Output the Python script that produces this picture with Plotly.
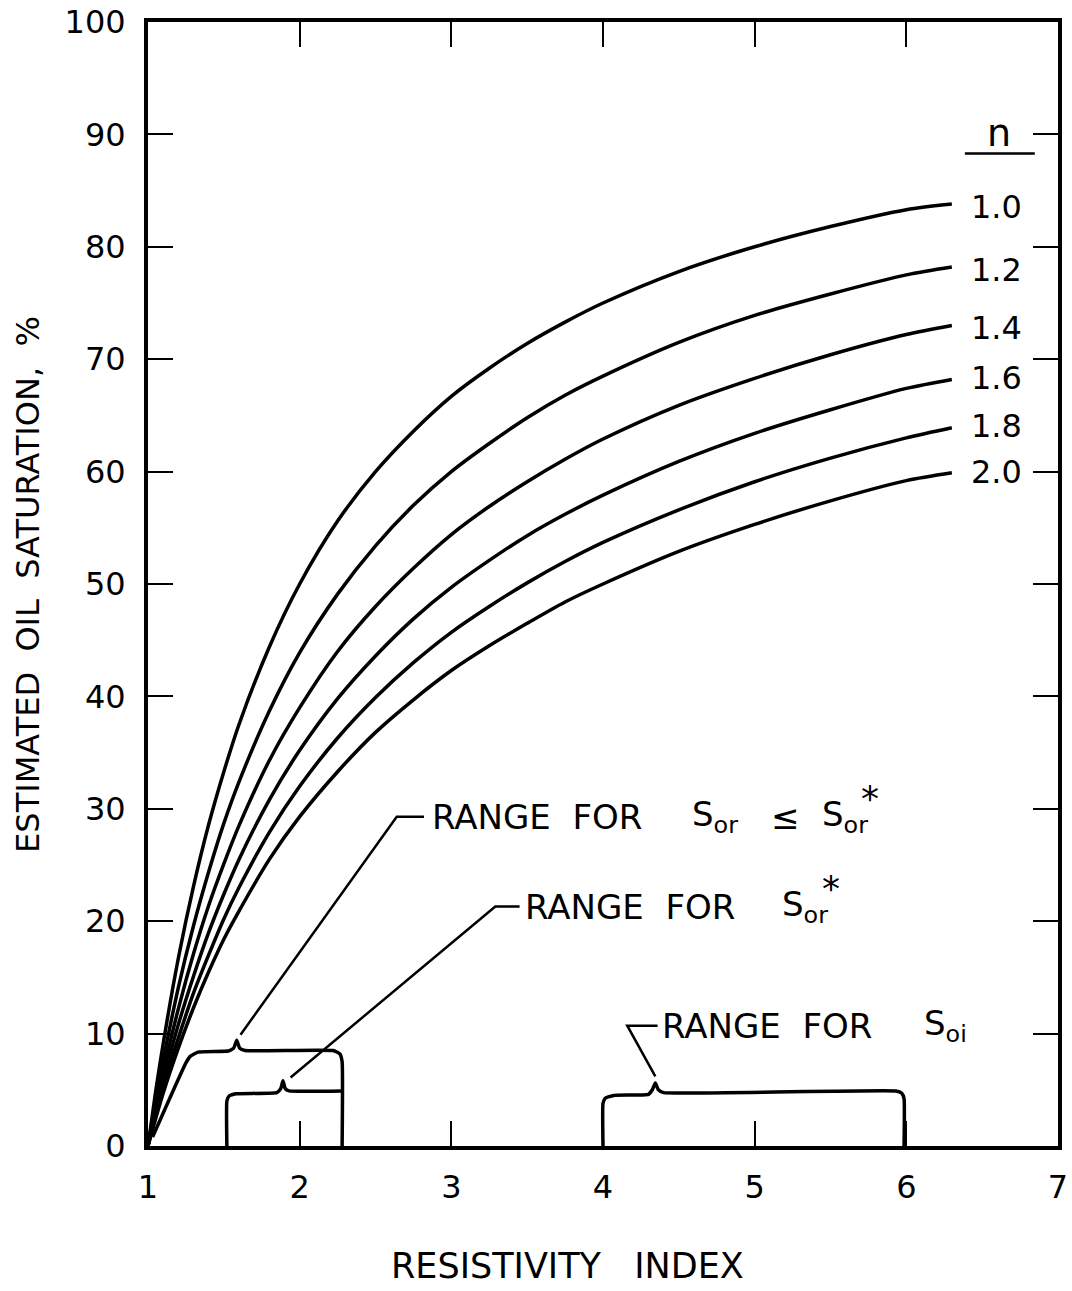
import plotly.graph_objects as go

# Resistivity index sample positions
ri = [1.0, 1.05, 1.1, 1.2, 1.3, 1.4, 1.5, 1.6, 1.8, 2.0, 2.25, 2.5, 2.75, 3.0, 3.25, 3.5, 3.75,
      4.0, 4.5, 5.0, 5.5, 6.0, 6.3]

# Estimated oil saturation (%), one list per exponent n
so_n10 = [0, 4.8, 9.1, 16.7, 23.1, 28.6, 33.3, 37.5, 44.4, 50.0, 55.6, 60.0, 63.6, 66.7, 69.2, 71.4, 73.3, 75.0, 77.8, 80.0, 81.8, 83.3, 83.8]
so_n12 = [0, 4.0, 7.6, 14.1, 19.6, 24.4, 28.7, 32.4, 38.7, 43.9, 49.1, 53.4, 57.0, 60.0, 62.5, 64.8, 66.8, 68.5, 71.5, 73.9, 75.8, 77.5, 78.2]
so_n14 = [0, 3.4, 6.6, 12.2, 17.1, 21.4, 25.1, 28.5, 34.3, 39.0, 44.0, 48.0, 51.4, 54.4, 56.9, 59.1, 61.1, 62.9, 65.9, 68.3, 70.4, 72.2, 73.0]
so_n16 = [0, 3.0, 5.8, 10.8, 15.1, 19.0, 22.4, 25.5, 30.8, 35.2, 39.8, 43.6, 46.9, 49.7, 52.1, 54.3, 56.2, 57.9, 60.9, 63.4, 65.5, 67.4, 68.2]
so_n18 = [0, 2.7, 5.2, 9.6, 13.6, 17.0, 20.2, 23.0, 27.9, 32.0, 36.3, 39.9, 43.0, 45.7, 48.0, 50.1, 52.0, 53.7, 56.6, 59.1, 61.2, 63.0, 63.9]
so_n20 = [0, 2.4, 4.7, 8.7, 12.3, 15.5, 18.4, 20.9, 25.5, 29.3, 33.3, 36.8, 39.7, 42.3, 44.5, 46.5, 48.4, 50.0, 52.9, 55.3, 57.4, 59.2, 59.9]

n_labels = ["1.0", "1.2", "1.4", "1.6", "1.8", "2.0"]
n_label_y = [83.5, 77.9, 72.8, 68.3, 64.1, 60.0]

x_ticks = [1, 2, 3, 4, 5, 6, 7]
y_ticks = [0, 10, 20, 30, 40, 50, 60, 70, 80, 90, 100]

# Range brackets (x = resistivity index, y = saturation %)
br_sor_le_x = [1.03, 1.25, 1.28, 1.33, 1.53, 1.565, 1.585, 1.605, 1.64, 2.22, 2.265, 2.28, 2.28]
br_sor_le_y = [0.8, 7.4, 8.0, 8.35, 8.45, 8.7, 9.4, 8.7, 8.5, 8.5, 8.2, 7.5, 0]
br_sor_x = [1.52, 1.52, 1.535, 1.58, 1.85, 1.875, 1.89, 1.905, 1.93, 2.28]
br_sor_y = [0, 4.0, 4.45, 4.65, 4.75, 5.1, 5.8, 5.1, 4.9, 4.9]
br_soi_x = [4.0, 4.0, 4.015, 4.07, 4.30, 4.325, 4.345, 4.365, 4.40, 5.93, 5.97, 5.985, 5.985]
br_soi_y = [0, 3.8, 4.25, 4.5, 4.6, 5.0, 5.6, 5.0, 4.75, 4.9, 4.7, 4.2, 0]

# Leader lines from brackets to their captions
ld1_x = [1.61, 2.64, 2.82]
ld1_y = [9.9, 29.3, 29.3]
ld2_x = [1.94, 3.29, 3.45]
ld2_y = [6.1, 21.3, 21.3]
ld3_x = [4.345, 4.16, 4.36]
ld3_y = [6.2, 10.7, 10.7]

# underline below the "n" heading
nline_x = [6.386, 6.847]
nline_y = [88.3, 88.3]

FONT = "DejaVu Sans"
fig = go.Figure()

for ys in [so_n10, so_n12, so_n14, so_n16, so_n18, so_n20]:
    fig.add_trace(go.Scatter(x=ri, y=ys, mode="lines", line=dict(color="black", width=3.5, shape="spline", smoothing=0.8),
                             showlegend=False, hoverinfo="skip", cliponaxis=False))

for bx, by in [(br_sor_le_x, br_sor_le_y), (br_sor_x, br_sor_y), (br_soi_x, br_soi_y)]:
    fig.add_trace(go.Scatter(x=bx, y=by, mode="lines", line=dict(color="black", width=3.5, shape="spline", smoothing=0.4),
                             showlegend=False, hoverinfo="skip", cliponaxis=False))

for lx, ly in [(ld1_x, ld1_y), (ld2_x, ld2_y), (ld3_x, ld3_y), (nline_x, nline_y)]:
    fig.add_trace(go.Scatter(x=lx, y=ly, mode="lines", line=dict(color="black", width=2.5),
                             showlegend=False, hoverinfo="skip", cliponaxis=False))

ann = []
def txt(x, y, s, size=32, xanchor="left", **kw):
    ann.append(dict(x=x, y=y, xref="x", yref="y", text=s, showarrow=False, xanchor=xanchor, yanchor="middle",
                    font=dict(family=FONT, size=size, color="black"), **kw))

# n labels
txt(6.61, 90.1, "n", size=38, xanchor="center")
for lab, yy in zip(n_labels, n_label_y):
    txt(6.415, yy, lab)

# range captions
txt(2.86, 29.3, "RANGE\u00a0\u00a0FOR", size=34)
txt(4.575, 29.3, "S<sub>or</sub>", size=34)
txt(5.20, 29.3, "≤", size=34, xanchor="center")
txt(5.43, 29.3, "S<sub>or</sub>", size=34)
txt(5.76, 30.9, "*", size=36, xanchor="center")

txt(3.47, 21.3, "RANGE\u00a0\u00a0FOR", size=34)
txt(5.17, 21.3, "S<sub>or</sub>", size=34)
txt(5.50, 22.9, "*", size=36, xanchor="center")

txt(4.375, 10.7, "RANGE\u00a0\u00a0FOR", size=34)
txt(6.10, 10.7, "S<sub>oi</sub>", size=34)

# axis titles
ann.append(dict(x=0.4615, y=-0.107, xref="paper", yref="paper", text="RESISTIVITY\u00a0\u00a0 INDEX", showarrow=False,
                xanchor="center", yanchor="middle", font=dict(family=FONT, size=35, color="black")))
ann.append(dict(x=-0.132, y=0.5, xref="paper", yref="paper", text="ESTIMATED\u00a0 OIL\u00a0 SATURATION,\u00a0 %", showarrow=False,
                textangle=-90, xanchor="center", yanchor="middle", font=dict(family=FONT, size=32, color="black")))

axis_common = dict(ticks="inside", ticklen=25, tickwidth=2, tickcolor="black", showline=True, linewidth=4,
                   linecolor="black", mirror="ticks", showgrid=False, zeroline=False, automargin=False,
                   tickfont=dict(family=FONT, size=32, color="black"))

fig.update_layout(
    width=1072, height=1291,
    margin=dict(l=148, r=14, t=22, b=145, autoexpand=False),
    paper_bgcolor="white", plot_bgcolor="white",
    xaxis=dict(range=[1, 7], tickvals=x_ticks, ticktext=[str(v) for v in x_ticks], ticklabelstandoff=10, **axis_common),
    yaxis=dict(range=[0, 100], tickvals=y_ticks, ticktext=[str(v) for v in y_ticks], ticklabelstandoff=12, **axis_common),
    annotations=ann,
    showlegend=False,
)

fig.write_html("out.html")
